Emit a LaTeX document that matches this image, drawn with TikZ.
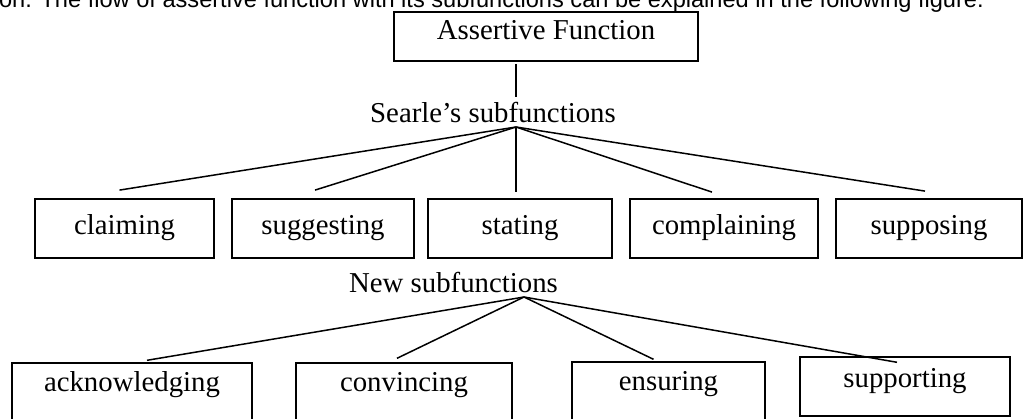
\documentclass[tikz,border=0pt]{standalone}
\usepackage{fontspec}
\setmainfont{Liberation Serif}
\newfontfamily\bodyfont{Liberation Sans}

\begin{document}
\begin{tikzpicture}[x=1pt,y=-1pt,font=\fontsize{28.8}{34}\selectfont]
  \useasboundingbox (0,0) rectangle (1023,418);
  \tikzset{FB/.style={draw, line width=1.8pt, inner sep=0pt, minimum width=304, minimum height=49, text height=20pt, text depth=14pt}}
  \tikzset{SB/.style={draw, line width=1.4pt, inner sep=0pt, minimum height=59, text height=20pt, text depth=7pt}}
  \tikzset{NB/.style={SB, minimum height=64, text depth=27pt}}
  \tikzset{L/.style={inner sep=2pt, anchor=base}}
  \tikzset{E/.style={line width=1.5pt}}
  % running text of the page, cut by the top edge
  \node [anchor=base east, inner sep=0pt, font=\bodyfont\fontsize{23.6}{28}\selectfont] (cap) at (984,7)
    {on. The flow of assertive function with its subfunctions can be explained in the following figure.};
  \node [FB] (afn) at (546,36.5) {Assertive Function};
  \node [L]  (searle) at (493,122) {Searle’s subfunctions};
  \coordinate (sfork) at (516,127);
  \node [SB, minimum width=179] (claiming)    at (124.5,228.3) {claiming};
  \node [SB, minimum width=182] (suggesting)  at (323,228.3)   {suggesting};
  \node [SB, minimum width=184] (stating)     at (520,228.3)   {stating};
  \node [SB, minimum width=188] (complaining) at (724,228.3)   {complaining};
  \node [SB, minimum width=186] (supposing)   at (929,228.3)   {supposing};
  \node [L]  (new) at (453.5,292) {New subfunctions};
  \coordinate (nfork) at (524,297);
  \node [NB, minimum width=240] (acknowledging) at (132,395)   {acknowledging};
  \node [NB, minimum width=216] (convincing)    at (404,395)   {convincing};
  \node [NB, minimum width=193] (ensuring)      at (668.5,394) {ensuring};
  \node [SB, minimum width=210, text depth=19pt] (supporting) at (905,386.5) {supporting};

  \draw [E, shorten <=2pt, shorten >=3pt] (afn.south -| sfork) -- (searle.north -| sfork);
  \foreach \to/\dx/\dy in {claiming/-5/-8,suggesting/-8/-8,stating/-4/-6,complaining/-12/-6,supposing/-4/-7}
    \draw [E] (sfork) -- ([shift={(\dx,\dy)}]\to.north);
  \foreach \to/\dx/\dy in {acknowledging/15/-2,convincing/-7/-4,ensuring/-15/-2,supporting/-8/6}
    \draw [E] (nfork) -- ([shift={(\dx,\dy)}]\to.north);
\end{tikzpicture}
\end{document}
